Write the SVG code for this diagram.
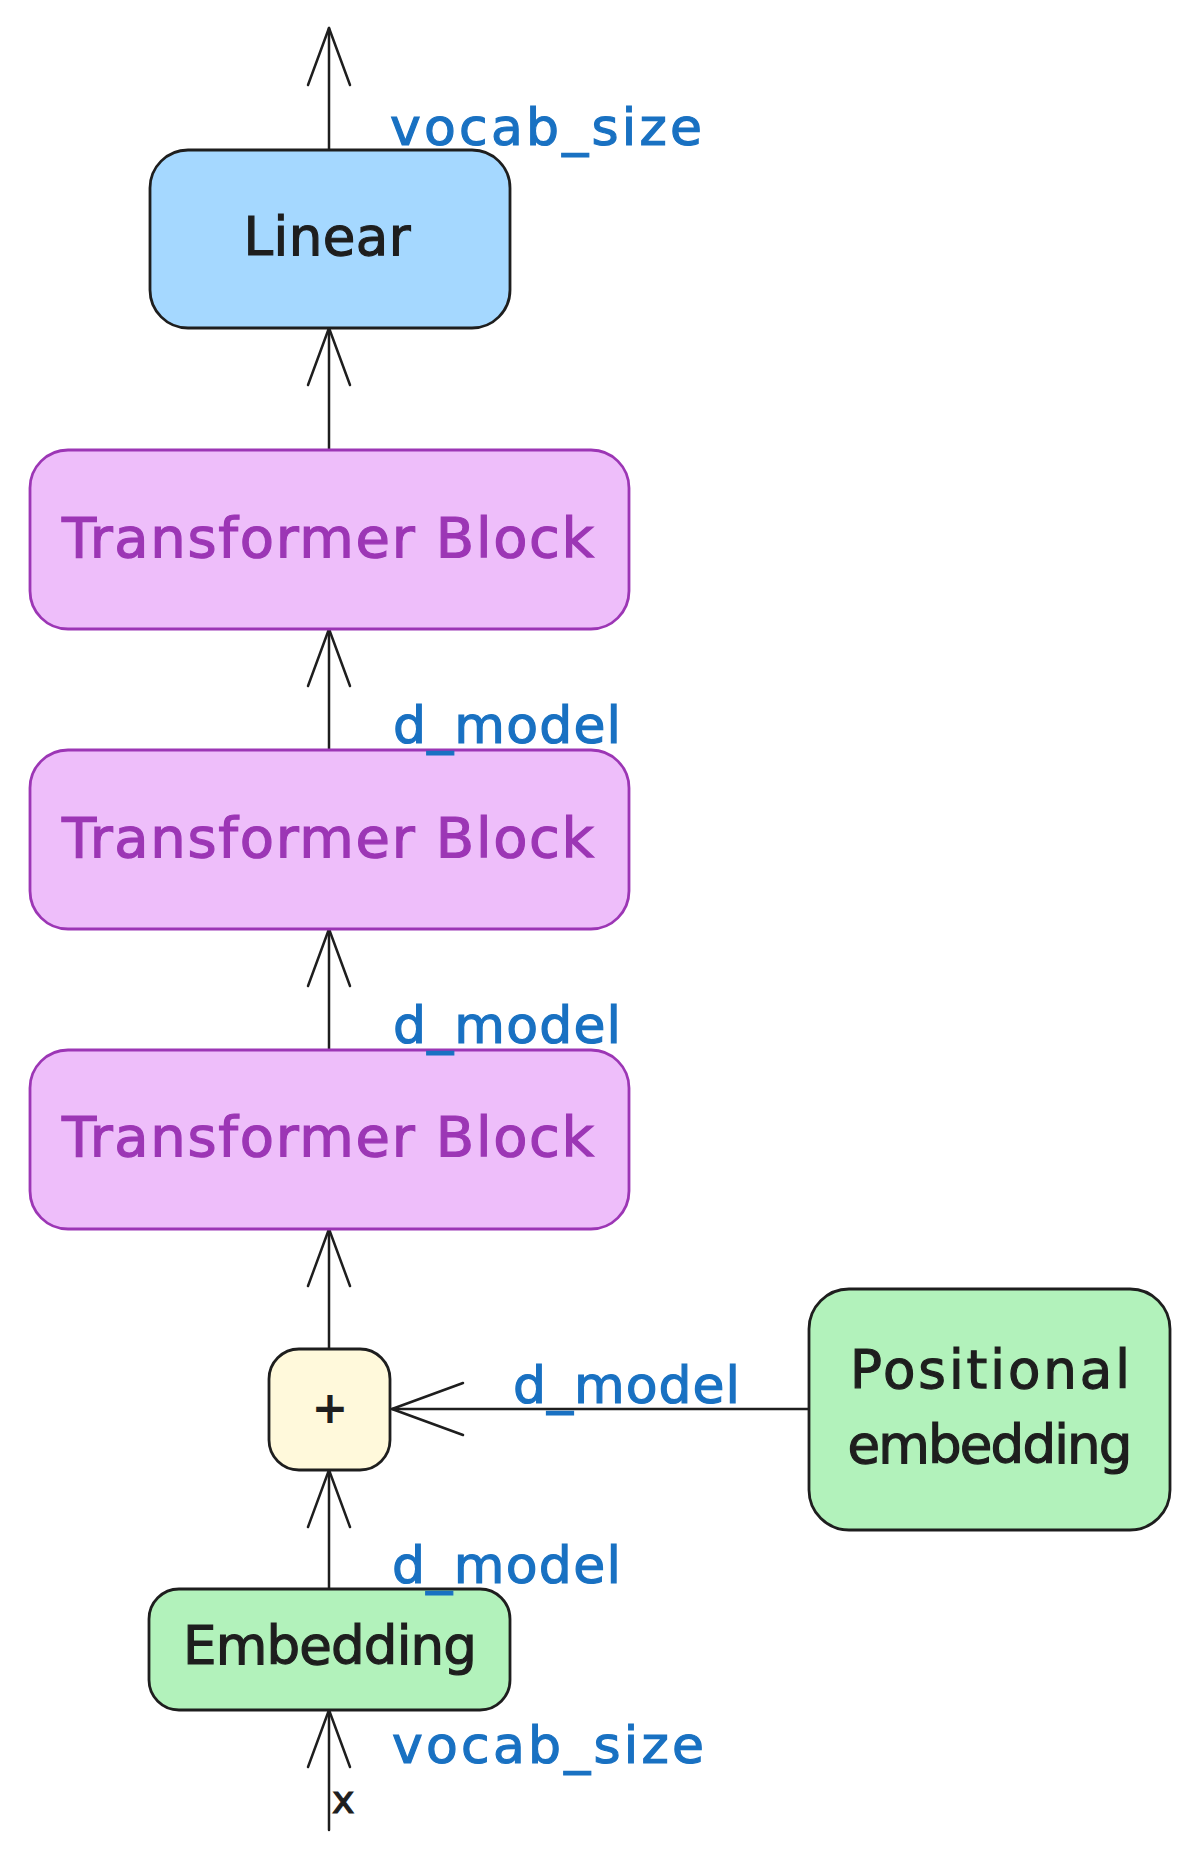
<svg xmlns="http://www.w3.org/2000/svg" width="1200" height="1860" viewBox="0 0 1200 1860">
<style>
.box{stroke:#1e1e1e;stroke-width:2.8}
.tb{fill:#eebefa;stroke:#9c36b5;stroke-width:2.8}
.lbl{font-family:"DejaVu Sans",sans-serif;font-size:53px;fill:#1e1e1e;stroke:#1e1e1e;stroke-width:1.2}
.tbt{font-family:"DejaVu Sans",sans-serif;font-size:56px;fill:#9c36b5;stroke:#9c36b5;stroke-width:1.2}
.dim{font-family:"DejaVu Sans",sans-serif;font-size:52px;fill:#1971c2;stroke:#1971c2;stroke-width:1.2}
.ln{fill:none;stroke:#1e1e1e;stroke-width:2.5;stroke-linecap:round}
</style>
<defs>
<marker id="arr" viewBox="-60 -25 62 50" markerWidth="62" markerHeight="50" refX="0" refY="0" orient="auto" markerUnits="userSpaceOnUse" overflow="visible">
<path d="M-57 -21 L0 0 L-57 21" fill="none" stroke="#1e1e1e" stroke-width="2.5" stroke-linecap="round" stroke-linejoin="round"/>
</marker>
<marker id="arr2" viewBox="-75 -30 77 60" markerWidth="77" markerHeight="60" refX="0" refY="0" orient="auto" markerUnits="userSpaceOnUse" overflow="visible">
<path d="M-71 -26 L0 0 L-71 26" fill="none" stroke="#1e1e1e" stroke-width="2.5" stroke-linecap="round" stroke-linejoin="round"/>
</marker>
</defs>
<rect width="1200" height="1860" fill="#ffffff"/>
<g id="connectors">
<path class="ln" d="M329 150 L329 28" marker-end="url(#arr)"/>
<path class="ln" d="M329 450 L329 328" marker-end="url(#arr)"/>
<path class="ln" d="M329 750 L329 629" marker-end="url(#arr)"/>
<path class="ln" d="M329 1050 L329 929" marker-end="url(#arr)"/>
<path class="ln" d="M329 1349 L329 1229" marker-end="url(#arr)"/>
<path class="ln" d="M329 1589 L329 1470" marker-end="url(#arr)"/>
<path class="ln" d="M329 1830 L329 1710" marker-end="url(#arr)"/>
<path class="ln" d="M809 1409 L392 1409" marker-end="url(#arr2)"/>
</g>
<g id="linear">
<rect class="box" x="150" y="150" width="360" height="178" rx="38" fill="#a5d8ff"/>
<text class="lbl" x="327" y="255" text-anchor="middle" textLength="167" lengthAdjust="spacing">Linear</text>
</g>
<g id="tb1">
<rect class="tb" x="30" y="450" width="599" height="179" rx="38"/>
<text class="tbt" x="328" y="557" text-anchor="middle" textLength="532" lengthAdjust="spacing">Transformer Block</text>
</g>
<g id="tb2">
<rect class="tb" x="30" y="750" width="599" height="179" rx="38"/>
<text class="tbt" x="328" y="857" text-anchor="middle" textLength="532" lengthAdjust="spacing">Transformer Block</text>
</g>
<g id="tb3">
<rect class="tb" x="30" y="1050" width="599" height="179" rx="38"/>
<text class="tbt" x="328" y="1156" text-anchor="middle" textLength="532" lengthAdjust="spacing">Transformer Block</text>
</g>
<g id="plus">
<rect class="box" x="269" y="1349" width="121" height="121" rx="30" fill="#fff9db"/>
<text x="330" y="1423" text-anchor="middle" font-family="DejaVu Sans, sans-serif" font-size="44" font-weight="bold" fill="#1e1e1e">+</text>
</g>
<g id="positional">
<rect class="box" x="809" y="1289" width="361" height="241" rx="40" fill="#b2f2bb"/>
<text class="lbl" x="990" y="1388" text-anchor="middle" textLength="280" lengthAdjust="spacing">Positional</text>
<text class="lbl" x="990" y="1463" text-anchor="middle" textLength="285" lengthAdjust="spacing">embedding</text>
</g>
<g id="embedding">
<rect class="box" x="149" y="1589" width="361" height="121" rx="30" fill="#b2f2bb"/>
<text class="lbl" x="330" y="1664" text-anchor="middle" textLength="294" lengthAdjust="spacing">Embedding</text>
</g>
<g id="labels">
<text class="dim" x="390" y="145" textLength="312" lengthAdjust="spacing">vocab_size</text>
<text class="dim" x="393" y="743" textLength="228" lengthAdjust="spacing">d_model</text>
<text class="dim" x="393" y="1043" textLength="228" lengthAdjust="spacing">d_model</text>
<text class="dim" x="513" y="1403" textLength="227" lengthAdjust="spacing">d_model</text>
<text class="dim" x="392" y="1583" textLength="229" lengthAdjust="spacing">d_model</text>
<text class="dim" x="392" y="1763" textLength="312" lengthAdjust="spacing">vocab_size</text>
<text x="332" y="1813" font-family="DejaVu Sans, sans-serif" font-size="38" fill="#1e1e1e" stroke="#1e1e1e" stroke-width="1.2">x</text>
</g>
</svg>
